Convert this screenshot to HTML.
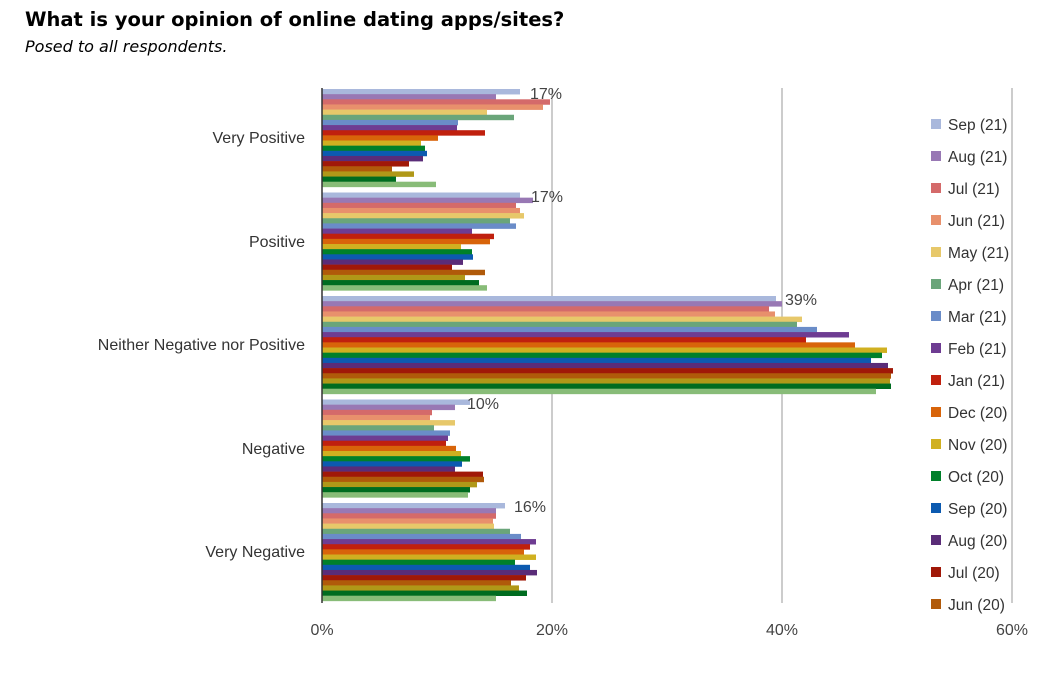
<!DOCTYPE html>
<html><head><meta charset="utf-8"><style>
body{margin:0;background:#fff;width:1062px;height:682px;overflow:hidden}
svg{display:block}
.c0{fill:#a9b8dc}.c1{fill:#9878b4}.c2{fill:#d46a6a}.c3{fill:#e8906c}.c4{fill:#e7c86a}.c5{fill:#6aa57a}.c6{fill:#6a8cc8}.c7{fill:#6e3c92}.c8{fill:#c0200e}.c9{fill:#d8640a}.c10{fill:#d0b020}.c11{fill:#00802a}.c12{fill:#0c5ab0}.c13{fill:#5a2c78}.c14{fill:#a01808}.c15{fill:#b05a0a}.c16{fill:#b09818}.c17{fill:#006c20}.c18{fill:#88bc78}
</style></head><body>
<svg width="1062" height="682" xmlns="http://www.w3.org/2000/svg" font-family="Liberation Sans, sans-serif">
<text x="25" y="26" font-family="DejaVu Sans, sans-serif" font-weight="bold" font-size="19.5" fill="#000">What is your opinion of online dating apps/sites?</text>
<text x="25" y="52" font-family="DejaVu Sans, sans-serif" font-style="italic" font-size="16" fill="#000">Posed to all respondents.</text>
<line x1="552" y1="88" x2="552" y2="603" stroke="#999"/>
<line x1="782" y1="88" x2="782" y2="603" stroke="#999"/>
<line x1="1012" y1="88" x2="1012" y2="603" stroke="#999"/>
<g transform="translate(322,89)">
<rect class="c0" y="0" width="198" height="5.45"/><rect class="c1" y="5.15" width="174" height="5.45"/><rect class="c2" y="10.3" width="228" height="5.45"/><rect class="c3" y="15.45" width="221" height="5.45"/><rect class="c4" y="20.6" width="165" height="5.45"/><rect class="c5" y="25.75" width="192" height="5.45"/><rect class="c6" y="30.9" width="136" height="5.45"/><rect class="c7" y="36.05" width="135" height="5.45"/><rect class="c8" y="41.2" width="163" height="5.45"/><rect class="c9" y="46.35" width="116" height="5.45"/><rect class="c10" y="51.5" width="99" height="5.45"/><rect class="c11" y="56.65" width="103" height="5.45"/><rect class="c12" y="61.8" width="105" height="5.45"/><rect class="c13" y="66.95" width="101" height="5.45"/><rect class="c14" y="72.1" width="87" height="5.45"/><rect class="c15" y="77.25" width="70" height="5.45"/><rect class="c16" y="82.4" width="92" height="5.45"/><rect class="c17" y="87.55" width="74" height="5.45"/><rect class="c18" y="92.7" width="114" height="5.45"/>
</g>
<g transform="translate(322,192.5)">
<rect class="c0" y="0" width="198" height="5.45"/><rect class="c1" y="5.15" width="211" height="5.45"/><rect class="c2" y="10.3" width="194" height="5.45"/><rect class="c3" y="15.45" width="198" height="5.45"/><rect class="c4" y="20.6" width="202" height="5.45"/><rect class="c5" y="25.75" width="188" height="5.45"/><rect class="c6" y="30.9" width="194" height="5.45"/><rect class="c7" y="36.05" width="150" height="5.45"/><rect class="c8" y="41.2" width="172" height="5.45"/><rect class="c9" y="46.35" width="168" height="5.45"/><rect class="c10" y="51.5" width="139" height="5.45"/><rect class="c11" y="56.65" width="150" height="5.45"/><rect class="c12" y="61.8" width="151" height="5.45"/><rect class="c13" y="66.95" width="141" height="5.45"/><rect class="c14" y="72.1" width="130" height="5.45"/><rect class="c15" y="77.25" width="163" height="5.45"/><rect class="c16" y="82.4" width="143" height="5.45"/><rect class="c17" y="87.55" width="157" height="5.45"/><rect class="c18" y="92.7" width="165" height="5.45"/>
</g>
<g transform="translate(322,296)">
<rect class="c0" y="0" width="454" height="5.45"/><rect class="c1" y="5.15" width="460" height="5.45"/><rect class="c2" y="10.3" width="447" height="5.45"/><rect class="c3" y="15.45" width="453" height="5.45"/><rect class="c4" y="20.6" width="480" height="5.45"/><rect class="c5" y="25.75" width="475" height="5.45"/><rect class="c6" y="30.9" width="495" height="5.45"/><rect class="c7" y="36.05" width="527" height="5.45"/><rect class="c8" y="41.2" width="484" height="5.45"/><rect class="c9" y="46.35" width="533" height="5.45"/><rect class="c10" y="51.5" width="565" height="5.45"/><rect class="c11" y="56.65" width="560" height="5.45"/><rect class="c12" y="61.8" width="549" height="5.45"/><rect class="c13" y="66.95" width="566" height="5.45"/><rect class="c14" y="72.1" width="571" height="5.45"/><rect class="c15" y="77.25" width="569" height="5.45"/><rect class="c16" y="82.4" width="568" height="5.45"/><rect class="c17" y="87.55" width="569" height="5.45"/><rect class="c18" y="92.7" width="554" height="5.45"/>
</g>
<g transform="translate(322,399.5)">
<rect class="c0" y="0" width="148" height="5.45"/><rect class="c1" y="5.15" width="133" height="5.45"/><rect class="c2" y="10.3" width="110" height="5.45"/><rect class="c3" y="15.45" width="108" height="5.45"/><rect class="c4" y="20.6" width="133" height="5.45"/><rect class="c5" y="25.75" width="112" height="5.45"/><rect class="c6" y="30.9" width="128" height="5.45"/><rect class="c7" y="36.05" width="126" height="5.45"/><rect class="c8" y="41.2" width="124" height="5.45"/><rect class="c9" y="46.35" width="134" height="5.45"/><rect class="c10" y="51.5" width="139" height="5.45"/><rect class="c11" y="56.65" width="148" height="5.45"/><rect class="c12" y="61.8" width="140" height="5.45"/><rect class="c13" y="66.95" width="133" height="5.45"/><rect class="c14" y="72.1" width="161" height="5.45"/><rect class="c15" y="77.25" width="162" height="5.45"/><rect class="c16" y="82.4" width="155" height="5.45"/><rect class="c17" y="87.55" width="148" height="5.45"/><rect class="c18" y="92.7" width="146" height="5.45"/>
</g>
<g transform="translate(322,503)">
<rect class="c0" y="0" width="183" height="5.45"/><rect class="c1" y="5.15" width="174" height="5.45"/><rect class="c2" y="10.3" width="174" height="5.45"/><rect class="c3" y="15.45" width="171" height="5.45"/><rect class="c4" y="20.6" width="172" height="5.45"/><rect class="c5" y="25.75" width="188" height="5.45"/><rect class="c6" y="30.9" width="199" height="5.45"/><rect class="c7" y="36.05" width="214" height="5.45"/><rect class="c8" y="41.2" width="208" height="5.45"/><rect class="c9" y="46.35" width="202" height="5.45"/><rect class="c10" y="51.5" width="214" height="5.45"/><rect class="c11" y="56.65" width="193" height="5.45"/><rect class="c12" y="61.8" width="208" height="5.45"/><rect class="c13" y="66.95" width="215" height="5.45"/><rect class="c14" y="72.1" width="204" height="5.45"/><rect class="c15" y="77.25" width="189" height="5.45"/><rect class="c16" y="82.4" width="197" height="5.45"/><rect class="c17" y="87.55" width="205" height="5.45"/><rect class="c18" y="92.7" width="174" height="5.45"/>
</g>
<line x1="322" y1="88" x2="322" y2="603" stroke="#333" stroke-width="1.5"/>
<g font-size="16" fill="#333" text-anchor="end">
<text x="305" y="143">Very Positive</text>
<text x="305" y="247">Positive</text>
<text x="305" y="350">Neither Negative nor Positive</text>
<text x="305" y="454">Negative</text>
<text x="305" y="557">Very Negative</text>
</g>
<g font-size="16" fill="#444" text-anchor="middle">
<text x="322" y="635">0%</text><text x="552" y="635">20%</text><text x="782" y="635">40%</text><text x="1012" y="635">60%</text>
</g>
<g font-size="16" fill="#444">
<text x="530" y="99">17%</text><text x="531" y="202">17%</text><text x="785" y="305">39%</text><text x="467" y="409">10%</text><text x="514" y="512">16%</text>
</g>
<g font-size="15.5" fill="#333">
<rect class="c0" x="931" y="119" width="10" height="10"/><text x="948" y="130">Sep (21)</text>
<rect class="c1" x="931" y="151" width="10" height="10"/><text x="948" y="162">Aug (21)</text>
<rect class="c2" x="931" y="183" width="10" height="10"/><text x="948" y="194">Jul (21)</text>
<rect class="c3" x="931" y="215" width="10" height="10"/><text x="948" y="226">Jun (21)</text>
<rect class="c4" x="931" y="247" width="10" height="10"/><text x="948" y="258">May (21)</text>
<rect class="c5" x="931" y="279" width="10" height="10"/><text x="948" y="290">Apr (21)</text>
<rect class="c6" x="931" y="311" width="10" height="10"/><text x="948" y="322">Mar (21)</text>
<rect class="c7" x="931" y="343" width="10" height="10"/><text x="948" y="354">Feb (21)</text>
<rect class="c8" x="931" y="375" width="10" height="10"/><text x="948" y="386">Jan (21)</text>
<rect class="c9" x="931" y="407" width="10" height="10"/><text x="948" y="418">Dec (20)</text>
<rect class="c10" x="931" y="439" width="10" height="10"/><text x="948" y="450">Nov (20)</text>
<rect class="c11" x="931" y="471" width="10" height="10"/><text x="948" y="482">Oct (20)</text>
<rect class="c12" x="931" y="503" width="10" height="10"/><text x="948" y="514">Sep (20)</text>
<rect class="c13" x="931" y="535" width="10" height="10"/><text x="948" y="546">Aug (20)</text>
<rect class="c14" x="931" y="567" width="10" height="10"/><text x="948" y="578">Jul (20)</text>
<rect class="c15" x="931" y="599" width="10" height="10"/><text x="948" y="610">Jun (20)</text>
</g>
</svg>
</body></html>
